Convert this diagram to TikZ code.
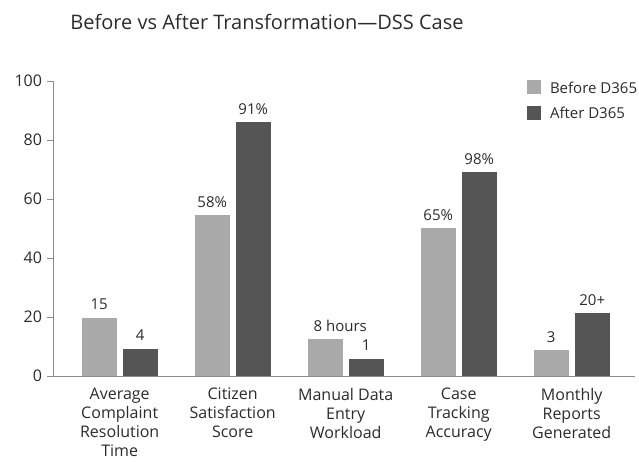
\documentclass[tikz,border=0pt]{standalone}
\usepackage{fontspec}
\setmainfont{Open Sans}
\usetikzlibrary{positioning}

\definecolor{beforegray}{HTML}{A9A9A9}
\definecolor{aftergray}{HTML}{555555}
\definecolor{axisgray}{HTML}{8C8C8C}
\definecolor{inkgray}{HTML}{2B2B2B}

\begin{document}
\begin{tikzpicture}[x=1pt,y=1pt]
                \tikzstyle{every node}=[text=inkgray,inner sep=0pt,outer sep=0pt]
                \tikzstyle{bar}=[anchor=south,minimum width=35pt]
                \tikzstyle{barbefore}=[bar,fill=beforegray]
                \tikzstyle{barafter}=[bar,fill=aftergray]
                \tikzstyle{vallabel}=[anchor=base,font=\fontsize{15}{18}\selectfont]
                \tikzstyle{catlabel}=[anchor=north,align=center,font=\fontsize{16}{19}\selectfont]
                \tikzstyle{ticklabel}=[anchor=east,font=\fontsize{16}{18}\selectfont]
                \tikzstyle{legendbox}=[minimum size=14pt]
                \tikzstyle{legendtext}=[anchor=west,font=\fontsize{15}{18}\selectfont]

                \useasboundingbox (0,0) rectangle (639,462);

                %% Title
                \node[anchor=base,font=\fontsize{20}{24}\selectfont] (title) at (267,432)
                    {Before vs After Transformation—DSS Case};

                %% Axes
                \coordinate (origin) at (53,86);
                \coordinate (ytop) at (53,381);
                \coordinate (xend) at (635,86);
                \draw[axisgray,line width=0.8pt] (ytop) -- (origin) -- (xend);
                \foreach \v in {0,20,...,100} {
                    \coordinate (tick\v) at (53,{86+2.95*\v});
                    \coordinate (tickend\v) at (47,{86+2.95*\v});
                    \draw[axisgray,line width=0.8pt] (tick\v) -- (tickend\v);
                    \node[ticklabel,xshift=-5pt] (ticklab\v) at (tickend\v) {\v};
                }

                %% Bars, value labels and categories
                \foreach \i/\bv/\av/\bt/\at/\bs/\cat in {
                    0/19.7/9.2/15/4/0/{Average\\Complaint\\Resolution\\Time},
                    1/54.5/86/58\%/91\%/0/{Citizen\\Satisfaction\\Score},
                    2/12.5/5.8/8 hours/1/15/{Manual Data\\Entry\\Workload},
                    3/50/69/65\%/98\%/0/{Case\\Tracking\\Accuracy},
                    4/8.8/21.3/3/20+/0/{Monthly\\Reports\\Generated}} {
                    \pgfmathsetmacro\cx{119.7+113*\i}
                    \pgfmathsetmacro\bh{2.95*\bv}
                    \pgfmathsetmacro\ah{2.95*\av}
                    \node[barbefore,minimum height=\bh pt] (before\i) at ({\cx-20.5},86) {};
                    \node[barafter,minimum height=\ah pt] (after\i) at ({\cx+20.5},86) {};
                    \node[vallabel] (beforelab\i) at ([xshift=\bs pt,yshift=8pt]before\i.north) {\bt};
                    \node[vallabel] (afterlab\i) at ([yshift=8pt]after\i.north) {\at};
                    \node[catlabel] (cat\i) at (\cx,74) {\cat};
                }

                %% Legend
                \node[legendbox,fill=beforegray] (keybefore) at (534,374.5) {};
                \node[legendbox,fill=aftergray] (keyafter) at (534,349) {};
                \node[legendtext,right=9pt of keybefore] (keybeforetext) {Before D365};
                \node[legendtext,right=9pt of keyafter] (keyaftertext) {After D365};
\end{tikzpicture}
\end{document}
